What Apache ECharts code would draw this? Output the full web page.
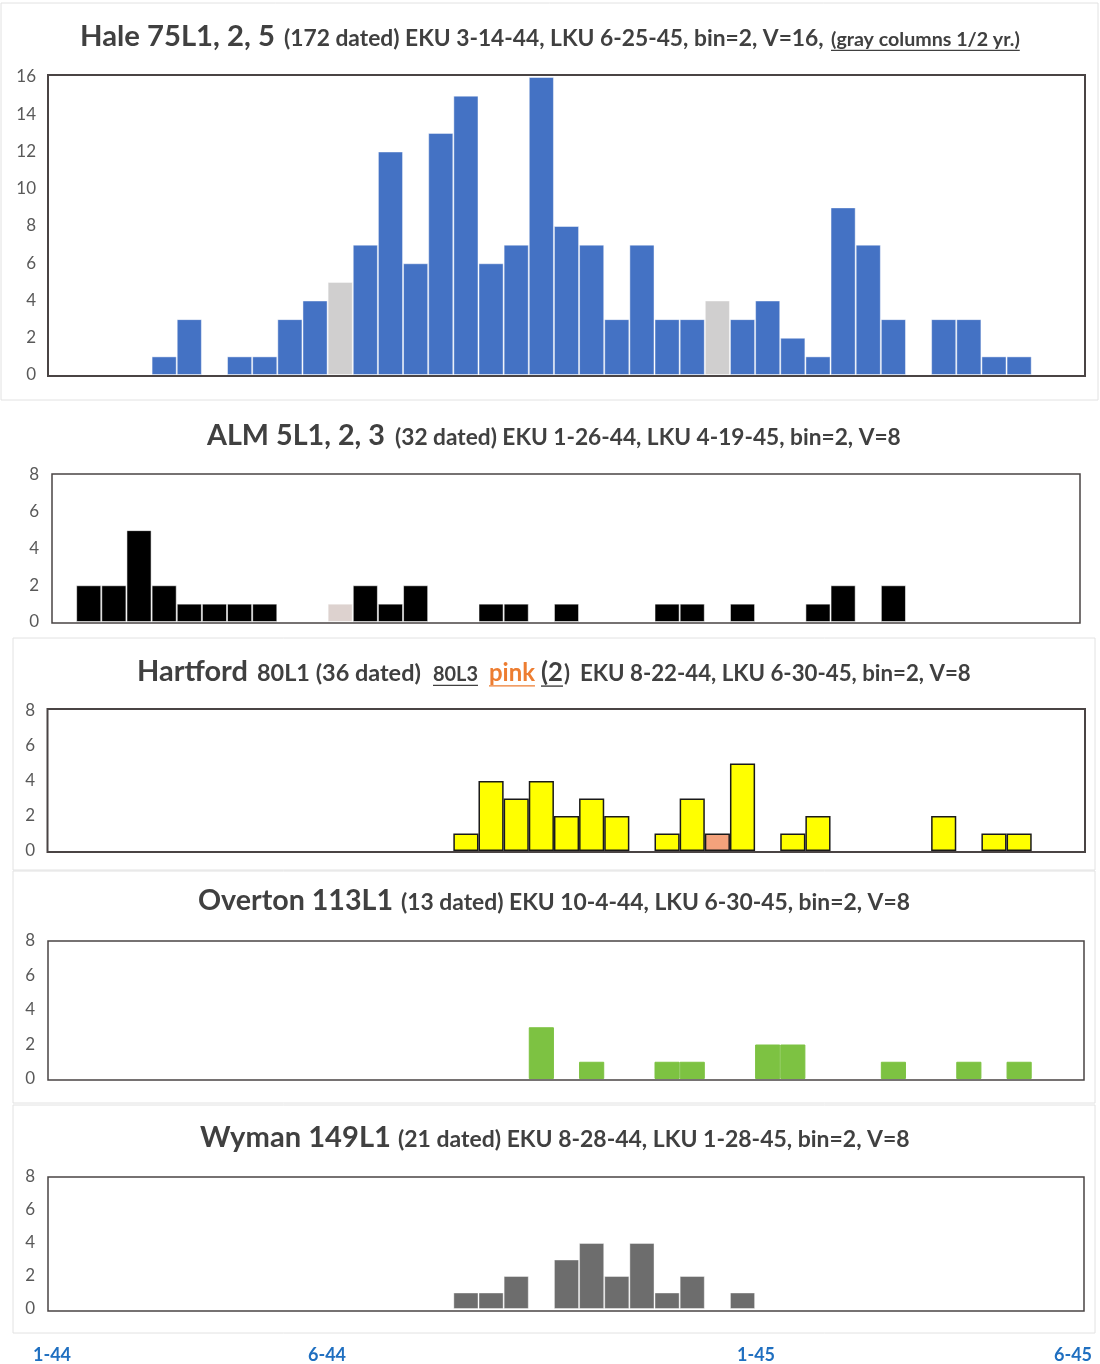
<!DOCTYPE html>
<html>
<head>
<meta charset="utf-8">
<script src="https://cdn.jsdelivr.net/npm/echarts@6/dist/echarts.min.js"></script>
<style>
  html, body { margin: 0; padding: 0; background: #ffffff; }
  #chart { width: 1100px; height: 1364px; }
</style>
</head>
<body>
<div id="chart"></div>
<script>
// Two-week bins shared by every panel (Jan 1944 .. Jun 1945)
const bins = ['b01','b02','b03','b04','b05','b06','b07','b08','b09','b10',
              'b11','b12','b13','b14','b15','b16','b17','b18','b19','b20',
              'b21','b22','b23','b24','b25','b26','b27','b28','b29','b30',
              'b31','b32','b33','b34','b35','b36','b37','b38','b39','b40','b41'];

// Hale 75L1, 2, 5 — covers per bin; gray = bins straddling a half-year
const haleCounts   = [0,0,0,0,1,3,0,1,1,3,4,0,7,12,6,13,15,6,7,16,8,7,3,7,3,3,0,3,4,2,1,9,7,3,0,3,3,1,1,0,0];
const haleHalfYear = [0,0,0,0,0,0,0,0,0,0,0,5,0,0,0,0,0,0,0,0,0,0,0,0,0,0,4,0,0,0,0,0,0,0,0,0,0,0,0,0,0];

// ALM 5L1, 2, 3
const almCounts    = [0,2,2,5,2,1,1,1,1,0,0,0,2,1,2,0,0,1,1,0,1,0,0,0,1,1,0,1,0,0,1,2,0,2,0,0,0,0,0,0,0];
const almHalfYear  = [0,0,0,0,0,0,0,0,0,0,0,1,0,0,0,0,0,0,0,0,0,0,0,0,0,0,0,0,0,0,0,0,0,0,0,0,0,0,0,0,0];

// Hartford 80L1 (yellow) and 80L3 (pink)
const hartfordCounts = [0,0,0,0,0,0,0,0,0,0,0,0,0,0,0,0,1,4,3,4,2,3,2,0,1,3,0,5,0,1,2,0,0,0,0,2,0,1,1,0,0];
const hartfordPink   = [0,0,0,0,0,0,0,0,0,0,0,0,0,0,0,0,0,0,0,0,0,0,0,0,0,0,1,0,0,0,0,0,0,0,0,0,0,0,0,0,0];

// Overton 113L1
const overtonCounts = [0,0,0,0,0,0,0,0,0,0,0,0,0,0,0,0,0,0,0,3,0,1,0,0,1,1,0,0,2,2,0,0,0,1,0,0,1,0,1,0,0];

// Wyman 149L1
const wymanCounts   = [0,0,0,0,0,0,0,0,0,0,0,0,0,0,0,0,1,1,2,0,3,4,2,4,1,2,0,1,0,0,0,0,0,0,0,0,0,0,0,0,0];

// Month markers under the stack
const monthTicks = ['1-44', '6-44', '1-45', '6-45'];

const FONT = 'Lato';
const TITLE_COLOR = '#404040';
const AXIS_COLOR = '#595959';

// ---- layout of the five panels ----
const gridLeft = 51, gridWidth = 1031;
const panels = [
  { top: 77,   height: 298, max: 16, margin: 15, frame: [48, 75, 1085, 376], frameW: 2 },
  { top: 475,  height: 147, max: 8,  margin: 12, frame: [52, 474, 1080, 623], frameW: 1.5 },
  { top: 711,  height: 140, max: 8,  margin: 16, frame: [47.5, 709, 1085, 852], frameW: 2 },
  { top: 941,  height: 138, max: 8,  margin: 16, frame: [48, 941, 1084, 1080], frameW: 1.5 },
  { top: 1177, height: 132, max: 8,  margin: 16, frame: [48, 1177, 1084, 1311], frameW: 1.5 }
];

const nz = arr => arr.map(v => (v ? v : null));

const seriesDefs = [
  [ { data: haleCounts,   color: '#4472c4', border: 'rgba(255,255,255,0.45)', bw: 1 },
    { data: haleHalfYear, color: '#d0cfcf', border: 'rgba(255,255,255,0.45)', bw: 1 } ],
  [ { data: almCounts,    color: '#000000', border: 'rgba(255,255,255,0.55)', bw: 1 },
    { data: almHalfYear,  color: '#ddd2cf', border: 'rgba(255,255,255,0.55)', bw: 1 } ],
  [ { data: hartfordCounts, color: '#ffff00', border: '#1a1a1a', bw: 1.5 },
    { data: hartfordPink,   color: '#f4a27c', border: '#1a1a1a', bw: 1.5 } ],
  // adjacent green bins run together with no seam
  [ { data: overtonCounts, color: '#7dc242', border: '#7dc242', bw: 1 } ],
  [ { data: wymanCounts,   color: '#6d6d6d', border: 'rgba(255,255,255,0.4)', bw: 1 } ]
];

const grid = [], xAxis = [], yAxis = [], series = [];
panels.forEach((p, i) => {
  grid.push({ left: gridLeft, width: gridWidth, top: p.top, height: p.height,
              containLabel: false, outerBoundsMode: 'none' });
  xAxis.push({ type: 'category', gridIndex: i, data: bins,
               axisLine: { show: false }, axisTick: { show: false },
               axisLabel: { show: false }, splitLine: { show: false } });
  yAxis.push({ type: 'value', gridIndex: i, min: 0, max: p.max, interval: 2,
               axisLine: { show: false }, axisTick: { show: false },
               splitLine: { show: false },
               axisLabel: { color: AXIS_COLOR, fontSize: 17, fontFamily: FONT, margin: p.margin } });
  seriesDefs[i].forEach(s => {
    series.push({
      type: 'bar', xAxisIndex: i, yAxisIndex: i, stack: 'panel' + i,
      barCategoryGap: '0%', barGap: '0%',
      data: nz(s.data), silent: true, animation: false,
      itemStyle: { color: s.color, borderColor: s.border, borderWidth: s.bw }
    });
  });
});

// ---- text helpers ----
const measureCtx = document.createElement('canvas').getContext('2d');
function widthAt(text, size) {
  measureCtx.font = 'bold ' + size + 'px ' + FONT;
  return measureCtx.measureText(text).width;
}

const graphic = [];

// faint panel outlines
[[1, 3, 1097, 397], [13, 638, 1082, 232], [13, 871, 1082, 232], [13, 1105, 1082, 228]].forEach(r => {
  graphic.push({ type: 'rect', z: 0, silent: true,
    shape: { x: r[0], y: r[1], width: r[2], height: r[3] },
    style: { fill: 'none', stroke: '#e2e2e2', lineWidth: 1 } });
});

// plot frames
panels.forEach(p => {
  const f = p.frame;
  graphic.push({ type: 'rect', z: 100, silent: true,
    shape: { x: f[0], y: f[1], width: f[2] - f[0], height: f[3] - f[1] },
    style: { fill: 'none', stroke: '#4a4444', lineWidth: p.frameW } });
});

// titles: each piece is fitted to its span [x0, x1] on a shared baseline
function addTitle(baseline, pieces) {
  pieces.forEach(pc => {
    const size = pc.size || (20 * (pc.x1 - pc.x0) / widthAt(pc.text, 20));
    const w = widthAt(pc.text, size);
    graphic.push({ type: 'text', z: 100, silent: true,
      x: pc.x0, y: baseline - 0.36 * size,
      style: { text: pc.text, fontSize: size, fontWeight: 'bold', fontFamily: FONT,
               fill: pc.color || TITLE_COLOR, align: 'left', verticalAlign: 'middle' } });
    if (pc.underline) {
      const uy = baseline + 0.12 * size + 1;
      graphic.push({ type: 'line', z: 100, silent: true,
        shape: { x1: pc.x0, y1: uy, x2: pc.x0 + w, y2: uy },
        style: { stroke: pc.color || TITLE_COLOR, lineWidth: 1.4 } });
    }
  });
}

addTitle(47, [
  { text: 'Hale 75L1, 2, 5', x0: 80, x1: 275 },
  { text: '(172 dated) EKU 3-14-44, LKU 6-25-45, bin=2, V=16,', x0: 284, x1: 824 },
  { text: '(gray columns 1/2 yr.)', x0: 831, x1: 1020, underline: true }
]);
addTitle(446, [
  { text: 'ALM 5L1, 2, 3', x0: 207, x1: 385 },
  { text: '(32 dated) EKU 1-26-44, LKU 4-19-45, bin=2, V=8', x0: 395, x1: 901 }
]);
addTitle(682, [
  { text: 'Hartford', x0: 137, x1: 248 },
  { text: '80L1 (36 dated)', x0: 257, x1: 421 },
  { text: '80L3', x0: 433, x1: 478, underline: true },
  { text: 'pink', x0: 489, x1: 535, underline: true, color: '#ed7d31' },
  { text: '(2', x0: 541, x1: 563, underline: true },
  { text: ')', x0: 564, x1: 570 },
  { text: 'EKU 8-22-44, LKU 6-30-45, bin=2, V=8', x0: 580, x1: 971 }
]);
addTitle(911, [
  { text: 'Overton 113L1', x0: 198, x1: 393 },
  { text: '(13 dated) EKU 10-4-44, LKU 6-30-45, bin=2, V=8', x0: 401, x1: 910 }
]);
addTitle(1148, [
  { text: 'Wyman 149L1', x0: 200, x1: 391 },
  { text: '(21 dated) EKU 8-28-44, LKU 1-28-45, bin=2, V=8', x0: 398, x1: 910 }
]);

// month markers
const monthTickX = [52, 327, 756, 1073];
monthTicks.forEach((t, i) => {
  graphic.push({ type: 'text', z: 100, silent: true,
    x: monthTickX[i], y: 1355,
    style: { text: t, fontSize: 18, fontWeight: 'bold', fontFamily: FONT,
             fill: '#1f6fc0', align: 'center', verticalAlign: 'middle' } });
});

const chart = echarts.init(document.getElementById('chart'), null, { renderer: 'canvas' });
chart.setOption({
  backgroundColor: '#ffffff',
  animation: false,
  grid, xAxis, yAxis, series, graphic
});
</script>
</body>
</html>
